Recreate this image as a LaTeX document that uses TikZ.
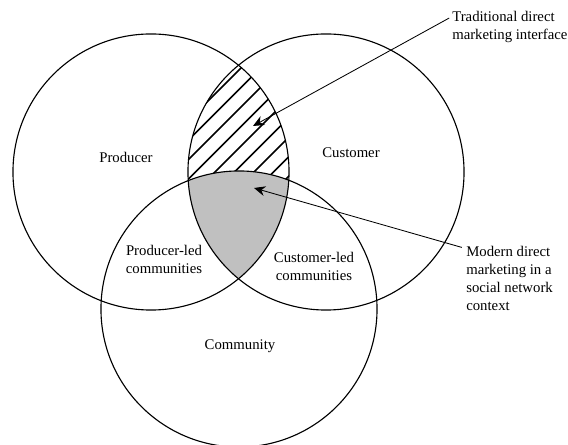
\documentclass[tikz,border=0pt]{standalone}
\usepackage{fontspec}
\setmainfont{Liberation Serif}
\usetikzlibrary{positioning,arrows.meta}
\definecolor{lensgray}{RGB}{192,192,192}

\begin{document}
\begin{tikzpicture}[x=0.025cm,y=-0.025cm,
  vennset/.style={circle,draw,thick,minimum size=6.9cm,inner sep=0pt},
  setlabel/.style={align=center,font=\fontsize{10.5}{12.8}\selectfont},
  notelabel/.style={align=left,anchor=north west,inner sep=0pt,font=\fontsize{10.5}{12.8}\selectfont},
  hatchline/.style={line width=1.1pt},
  pointer/.style={semithick,-{Stealth[length=8pt,width=7pt]}}
]
\useasboundingbox (0,0) rectangle (568,445);

% the centres of the sets
\coordinate (pc) at (151,172);
\coordinate (cc) at (326,172);
\coordinate (mc) at (239,309);

% the traditional interface (hatched)
\begin{scope}
  \clip (pc) circle[radius=3.45cm];
  \clip (cc) circle[radius=3.45cm];
  \foreach \s in {270,289.5,...,480}
    \draw[hatchline] (\s-200,200) -- (\s,0);
\end{scope}

% the social network context (grey)
\begin{scope}
  \clip (pc) circle[radius=3.45cm];
  \clip (cc) circle[radius=3.45cm];
  \fill[lensgray] (mc) circle[radius=3.45cm];
\end{scope}

% the three sets
\node[vennset] (prod) at (pc) {};
\node[vennset] (cust) at (cc) {};
\node[vennset] (comm) at (mc) {};

% the labels
\node[setlabel] (prodlbl) at (126,157) {Producer};
\node[setlabel] (custlbl) at (351,153) {Customer};
\node[setlabel] (commlbl) at (240,346) {Community};
\node[setlabel] (prodled) at (164,259) {Producer-led\\communities};
\node[setlabel] (custled) at (314,266) {Customer-led\\communities};

% the notes
\node[notelabel] (trad) at (452,11) {Traditional direct\\marketing interface};
\node[notelabel] (modern) at (466,246) {Modern direct\\marketing in a\\social network\\context};

% the arrows
\coordinate (tradtip) at (253,126);
\coordinate (moderntip) at (254,188);
\draw[pointer] ([xshift=-2pt,yshift=-5pt]trad.north west) -- (tradtip);
\draw[pointer] ([xshift=-3pt,yshift=-1pt]modern.north west) -- (moderntip);
\end{tikzpicture}
\end{document}
